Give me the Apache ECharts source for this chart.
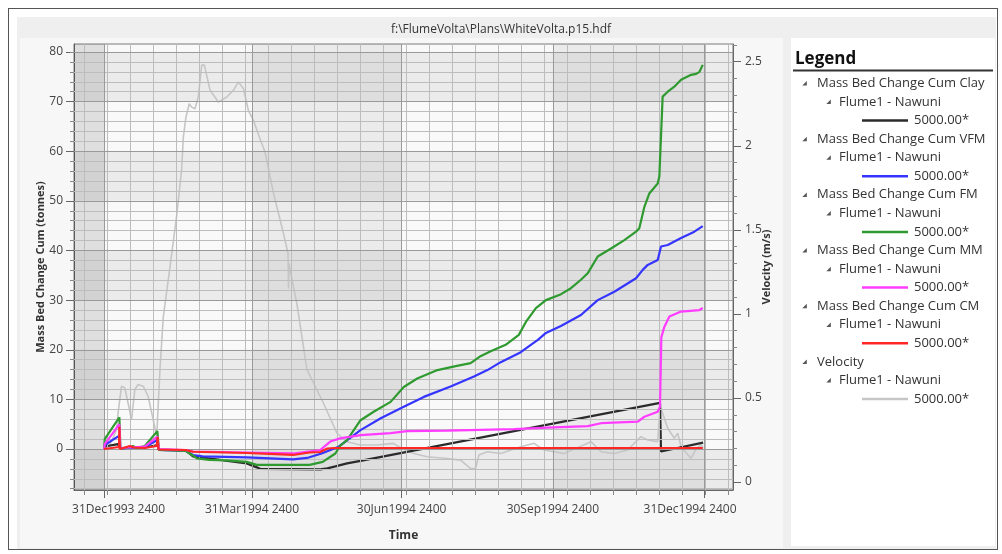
<!DOCTYPE html>
<html><head><meta charset="utf-8">
<script src="https://cdn.jsdelivr.net/npm/echarts@6/dist/echarts.min.js"></script>
<style>
html,body{margin:0;padding:0;background:#fff;}
#wrap{position:relative;width:1002px;height:554px;overflow:hidden;}
.p{position:absolute;box-sizing:border-box;}
#chart{position:absolute;left:0;top:0;width:1002px;height:554px;}
</style></head><body>
<div id="wrap">
 <div class="p" style="left:8px;top:8px;width:990px;height:542px;border:1px solid #555;"></div>
 <div class="p" style="left:17px;top:17px;width:979px;height:532px;background:#efefef;"></div>
 <div class="p" style="left:20px;top:38px;width:763px;height:510px;background:#f7f7f7;"></div>
 <div class="p" style="left:791px;top:38px;width:204px;height:508px;background:#fff;"></div>
 <div id="chart"></div>
</div>
<script>
// ---------- data (x = days after 31Dec1993 2400) ----------
const chartTitle = 'f:\\FlumeVolta\\Plans\\WhiteVolta.p15.hdf';
const seriesNames = ['Mass Bed Change Cum Clay','Mass Bed Change Cum VFM','Mass Bed Change Cum FM','Mass Bed Change Cum MM','Mass Bed Change Cum CM','Velocity'];
const locationName = 'Flume1 - Nawuni';
const profileLabel = '5000.00*';
const tickDays = [0, 90, 181, 273, 365];
const tickLabels = ['31Dec1993 2400','31Mar1994 2400','30Jun1994 2400','30Sep1994 2400','31Dec1994 2400'];
const minorTickDays = [-12,2,16,30,44,58,72,86,100,114,128,142,156,170,184,198,212,226,240,254,268,282,296,310,324,338,352,366,380];
const leftTicks = [0,10,20,30,40,50,60,70,80];
const leftMinorTicks = [-8,-6,-4,-2,2,4,6,8,12,14,16,18,22,24,26,28,32,34,36,38,42,44,46,48,52,54,56,58,62,64,66,68,72,74,76,78,80];
const rightTicks = [0,0.5,1,1.5,2,2.5];
const rightMinorTicks = [0.1,0.2,0.3,0.4,0.6,0.7,0.8,0.9,1.1,1.2,1.3,1.4,1.6,1.7,1.8,1.9,2.1,2.2,2.3,2.4,2.6];
const darkQuarters = [[-18.3,0],[90,181],[273,365]];
const darkBands = [[-8.26,0],[10,20],[30,40],[50,60],[70,80]];

const clayData = [[0,0],[0.4,0.5],[8.4,1.0],[9.3,1.2],[9.9,0],[15.7,0.2],[17.5,0.4],[24.8,0.3],[32.7,0.8],[33.4,-0.1],[49.8,-0.3],[54.1,-1.5],[70.5,-2.2],[86.8,-2.9],[92.9,-3.7],[94.9,-4.0],[131.5,-4.1],[135.8,-3.9],[140.7,-3.5],[147.8,-2.9],[156,-2.4],[338.2,9.3],[338.8,-0.5],[364.4,1.3]];
const vfmData = [[0,0],[0.4,0.8],[9.3,2.7],[9.9,0.1],[15.7,0.2],[24.8,0.4],[32.4,1.8],[33.4,-0.2],[49.8,-0.4],[54.1,-1.2],[60,-1.5],[86.8,-1.7],[115,-2.1],[123.5,-1.8],[132.3,-0.9],[142.7,0.46],[156,3.8],[168.3,6.2],[182.3,8.5],[194.5,10.5],[210.8,12.6],[225,14.6],[233.2,15.9],[241.3,17.5],[253.5,19.5],[259.6,21],[263.9,22],[268.8,23.4],[277.9,24.8],[290.1,27.0],[300.3,30.0],[310.4,31.7],[323.6,34.4],[327.7,36.1],[330.7,37.1],[336.8,38.1],[338.8,40.8],[342.9,41.1],[351,42.5],[359.1,43.8],[364.2,44.9]];
const fmData = [[0,0],[0.4,2.0],[9.3,6.4],[9.9,0.1],[15.7,0.3],[17.5,0.6],[20,0.2],[24.8,0.6],[32.4,3.6],[33.4,-0.2],[49.8,-0.4],[53.5,-1.2],[56.5,-1.9],[64,-2.2],[75,-2.3],[86.8,-2.6],[92.9,-3.2],[125,-3.2],[133,-2.6],[140.7,-0.9],[143.5,0.6],[147.8,1.8],[156,5.8],[164,7.5],[174.3,9.5],[182.3,12.5],[190.5,14.2],[202.8,15.9],[213.9,16.7],[223,17.3],[229,18.7],[235.2,19.7],[244.3,21],[252.3,23],[256.6,25.6],[262.7,28.4],[268.8,30],[278,31.2],[284,32.4],[290.1,34.1],[294.2,35.4],[300.3,38.8],[308.4,40.4],[316.5,42.1],[323.6,43.8],[325.6,44.5],[328.7,48.8],[331.7,51.5],[336.8,53.5],[337.8,54.9],[339.8,71.0],[342.9,72.0],[346.9,73.0],[351,74.4],[357.1,75.4],[360.2,75.6],[362.2,76.0],[364.2,77.4]];
const mmData = [[0,0],[0.4,1.0],[9.3,5.0],[9.9,0.2],[15.7,0.3],[24.8,0.5],[32.4,2.5],[33.4,0],[49.8,-0.2],[54.1,-0.5],[86.8,-0.7],[115,-0.9],[131.5,-0.2],[137.6,1.5],[143.5,2.15],[156,2.8],[174.3,3.2],[184.4,3.6],[208.8,3.7],[249.4,4.0],[269.8,4.3],[294.2,4.6],[302.3,5.2],[324.7,5.5],[328.7,6.5],[336.8,7.5],[338.2,8.5],[339.0,22.5],[340.8,24.6],[343.9,26.7],[351,27.7],[362.2,28.0],[364.2,28.4]];
const cmData = [[0,0],[0.4,0.2],[9.1,0.4],[9.3,4.5],[9.6,0],[15.7,0.6],[18,0.3],[24.8,0.2],[32.0,0.6],[32.6,2.4],[33.0,-0.1],[49.8,-0.2],[54.1,-0.55],[86.8,-0.8],[115,-1.2],[125,-0.7],[131.5,-0.6],[135.8,0.1],[140,0.2],[364.2,0.2]];
const velocityData = [[0,0.2],[3.5,0.22],[7.6,0.31],[8.5,0.41],[10.6,0.57],[12.6,0.56],[14.6,0.47],[16.7,0.37],[18.7,0.55],[20.7,0.58],[23.8,0.57],[26.8,0.51],[29.9,0.37],[32,0.27],[34,0.67],[36,0.98],[40.1,1.28],[44.1,1.58],[47.2,1.86],[48.2,2.05],[49.8,2.17],[51.8,2.25],[53.3,2.23],[55.3,2.22],[57.3,2.29],[59.4,2.48],[61,2.48],[64.5,2.33],[69.5,2.26],[74.6,2.29],[78.7,2.33],[81.7,2.38],[84.8,2.34],[87.8,2.21],[90.9,2.15],[94.9,2.04],[98,1.96],[103,1.72],[109.1,1.48],[111.9,1.36],[112.2,1.15],[112.6,1.3],[113.2,1.26],[117.3,1.06],[123.4,0.67],[133.4,0.47],[141.7,0.29],[147.8,0.24],[155.9,0.22],[166.1,0.22],[176,0.23],[181,0.2],[188.4,0.17],[196.6,0.15],[208.8,0.14],[216.9,0.13],[223,0.08],[226,0.08],[228,0.16],[233.2,0.18],[241.3,0.17],[253.5,0.21],[261.6,0.23],[267.7,0.19],[273.8,0.18],[279.7,0.17],[287,0.2],[296.2,0.24],[302.3,0.18],[310.4,0.17],[318.5,0.19],[326.6,0.27],[330.7,0.25],[336.8,0.24],[338.2,0.45],[340.1,0.4],[342.9,0.32],[346.9,0.26],[349,0.29],[351,0.21],[357.1,0.14],[360.2,0.2],[363.2,0.22],[364.4,0.2]];

const seriesData = [clayData, vfmData, fmData, mmData, cmData, velocityData];
const seriesColors = ['#2b2b2b','#3535ff','#2f9a2f','#ff3cff','#ff2626','#c6c6c6'];
const seriesAxis = [0,0,0,0,0,1];

// ---------- chart ----------
const FONT = '"Open Sans", "Noto Sans", sans-serif';
const X_MIN = -18.3, X_MAX = 382.6;
const L_MIN = -8.26, L_MAX = 81.61;
const R_MIN = -0.0476, R_MAX = 2.6055;

const chart = echarts.init(document.getElementById('chart'), null, {renderer:'canvas'});

const markAreas = [];
darkQuarters.forEach(q => markAreas.push([{xAxis:q[0]},{xAxis:q[1]}]));
darkBands.forEach(b => markAreas.push([{yAxis:b[0]},{yAxis:b[1]}]));
markAreas.push([{xAxis:X_MIN},{xAxis:0, itemStyle:{color:'rgba(0,0,0,0.05)'}}]);

const minorLine = {color:'#bdbdbd', width:1, type:'solid'};
const majorLine = {color:'#9a9a9a', width:1, type:'solid'};
const minorLines = [], majorLines = [];
minorTickDays.forEach(d => minorLines.push({xAxis:d, lineStyle:Object.assign({}, minorLine)}));
leftMinorTicks.forEach(v => minorLines.push({yAxis:v, lineStyle:Object.assign({}, minorLine)}));
tickDays.forEach(d => majorLines.push({xAxis:d, lineStyle:Object.assign({}, majorLine)}));
leftTicks.forEach(v => majorLines.push({yAxis:v, lineStyle:Object.assign({}, majorLine)}));

const series = [{
  type:'line', name:'_shade', data:[], silent:true, z:1, xAxisIndex:0, yAxisIndex:0,
  markArea:{silent:true, itemStyle:{color:'rgba(0,0,0,0.055)'}, label:{show:false}, data:markAreas}
},{
  type:'line', name:'_minor', data:[], silent:true, z:2, xAxisIndex:0, yAxisIndex:0,
  markLine:{silent:true, symbol:['none','none'], label:{show:false}, animation:false, lineStyle:minorLine, data:minorLines}
},{
  type:'line', name:'_major', data:[], silent:true, z:2, xAxisIndex:0, yAxisIndex:0,
  markLine:{silent:true, symbol:['none','none'], label:{show:false}, animation:false, lineStyle:majorLine, data:majorLines}
}];
const order = [5,0,1,2,3,4];
order.forEach(i => {
  series.push({
    type:'line', name:seriesNames[i], data:seriesData[i], xAxisIndex:0, yAxisIndex:seriesAxis[i],
    showSymbol:false, symbol:'none', z: 3 + order.indexOf(i),
    lineStyle:{color:seriesColors[i], width: i===5 ? 1.6 : 2.2},
    itemStyle:{color:seriesColors[i]}, emphasis:{disabled:true}
  });
});

// legend (tree style) as graphic
const graphics = [];
graphics.push({type:'text', x:795, y:59, style:{text:'Legend', font:'bold 17px ' + FONT, fill:'#111', verticalAlign:'middle'}});
graphics.push({type:'line', shape:{x1:793, y1:70.5, x2:993, y2:70.5}, style:{stroke:'#333', lineWidth:2}});
function tri(cx, cy){
  graphics.push({type:'polygon', shape:{points:[[cx+2.3,cy-2.3],[cx+2.3,cy+2.2],[cx-2.2,cy+2.2]]}, style:{fill:'#555'}});
}
function txt(x, y, s){
  graphics.push({type:'text', x:x, y:y, style:{text:s, font:'13px ' + FONT, fill:'#333', verticalAlign:'middle'}});
}
seriesNames.forEach((n, i) => {
  const y0 = 83.3 + i * 55.7;
  tri(804.5, y0); txt(817, y0, n);
  tri(828.5, y0 + 18.6); txt(839, y0 + 18.6, locationName);
  graphics.push({type:'line', shape:{x1:862, y1:y0+37.2, x2:908, y2:y0+37.2}, style:{stroke:seriesColors[i], lineWidth:2.5}});
  txt(914, y0 + 37.2, profileLabel);
});

const labelStyle = {color:'#444', fontSize:12, fontFamily:FONT};
const option = {
  animation:false,
  backgroundColor:'transparent',
  title:{text:chartTitle, left:'center', top:19, textStyle:{fontSize:12, fontWeight:'normal', color:'#333', fontFamily:FONT}},
  grid:{left:74, right:269, top:44, bottom:64, show:true, backgroundColor:'#f9f9f9', borderColor:'#7a7a7a', borderWidth:1},
  xAxis:[{
    type:'value', min:X_MIN, max:X_MAX, position:'bottom',
    name:'Time', nameLocation:'middle', nameGap:40, nameMoveOverlap:false,
    nameTextStyle:{fontWeight:'bold', fontSize:12, color:'#333', fontFamily:FONT},
    axisLine:{show:true, onZero:false, lineStyle:{color:'#666', width:1}},
    axisTick:{show:true, customValues:tickDays, length:8, lineStyle:{color:'#666'}},
    axisLabel:{show:true, customValues:tickDays, margin:14, color:'#444', fontSize:12, fontFamily:FONT,
      formatter:function(v){
        const k = tickDays.indexOf(Math.round(v));
        const s = k >= 0 ? tickLabels[k] : '';
        if (k === 0) return '{f|' + s + '}';
        if (k === tickDays.length - 1) return '{l|' + s + '}';
        return s;
      },
      rich:{f:Object.assign({padding:[0,0,0,29]}, labelStyle), l:Object.assign({padding:[0,28,0,0]}, labelStyle)}
    },
    splitLine:{show:false}
  },{
    type:'value', min:X_MIN, max:X_MAX, position:'bottom', offset:0,
    axisLine:{show:false, onZero:false}, axisLabel:{show:false}, splitLine:{show:false},
    axisTick:{show:true, customValues:minorTickDays, length:5, lineStyle:{color:'#888'}}
  }],
  yAxis:[{
    type:'value', min:L_MIN, max:L_MAX, position:'left',
    name:'Mass Bed Change Cum (tonnes)', nameLocation:'middle', nameGap:28, nameMoveOverlap:false,
    nameTextStyle:{fontWeight:'bold', fontSize:11, color:'#333', fontFamily:FONT},
    axisLine:{show:true, onZero:false, lineStyle:{color:'#666'}},
    axisTick:{show:true, customValues:leftTicks, length:8, lineStyle:{color:'#666'}},
    axisLabel:{show:true, customValues:leftTicks, margin:11, color:'#444', fontSize:12, fontFamily:FONT, formatter:v => String(Math.round(v))},
    splitLine:{show:false}
  },{
    type:'value', min:R_MIN, max:R_MAX, position:'right',
    name:'Velocity (m/s)', nameLocation:'middle', nameGap:28, nameMoveOverlap:false,
    nameTextStyle:{fontWeight:'bold', fontSize:11, color:'#333', fontFamily:FONT},
    axisLine:{show:true, onZero:false, lineStyle:{color:'#666'}},
    axisTick:{show:true, customValues:rightTicks, length:8, lineStyle:{color:'#666'}},
    axisLabel:{show:true, customValues:rightTicks, margin:12, color:'#444', fontSize:12, fontFamily:FONT, formatter:v => String(Math.round(v*10)/10)},
    splitLine:{show:false}
  },{
    type:'value', min:L_MIN, max:L_MAX, position:'left', offset:0,
    axisLine:{show:false, onZero:false}, axisLabel:{show:false}, splitLine:{show:false},
    axisTick:{show:true, customValues:leftMinorTicks, length:4, lineStyle:{color:'#888'}}
  },{
    type:'value', min:R_MIN, max:R_MAX, position:'right', offset:0,
    axisLine:{show:false, onZero:false}, axisLabel:{show:false}, splitLine:{show:false},
    axisTick:{show:true, customValues:rightMinorTicks, length:4, lineStyle:{color:'#888'}}
  }],
  graphic:graphics,
  series:series
};
chart.setOption(option);
</script>
</body></html>
